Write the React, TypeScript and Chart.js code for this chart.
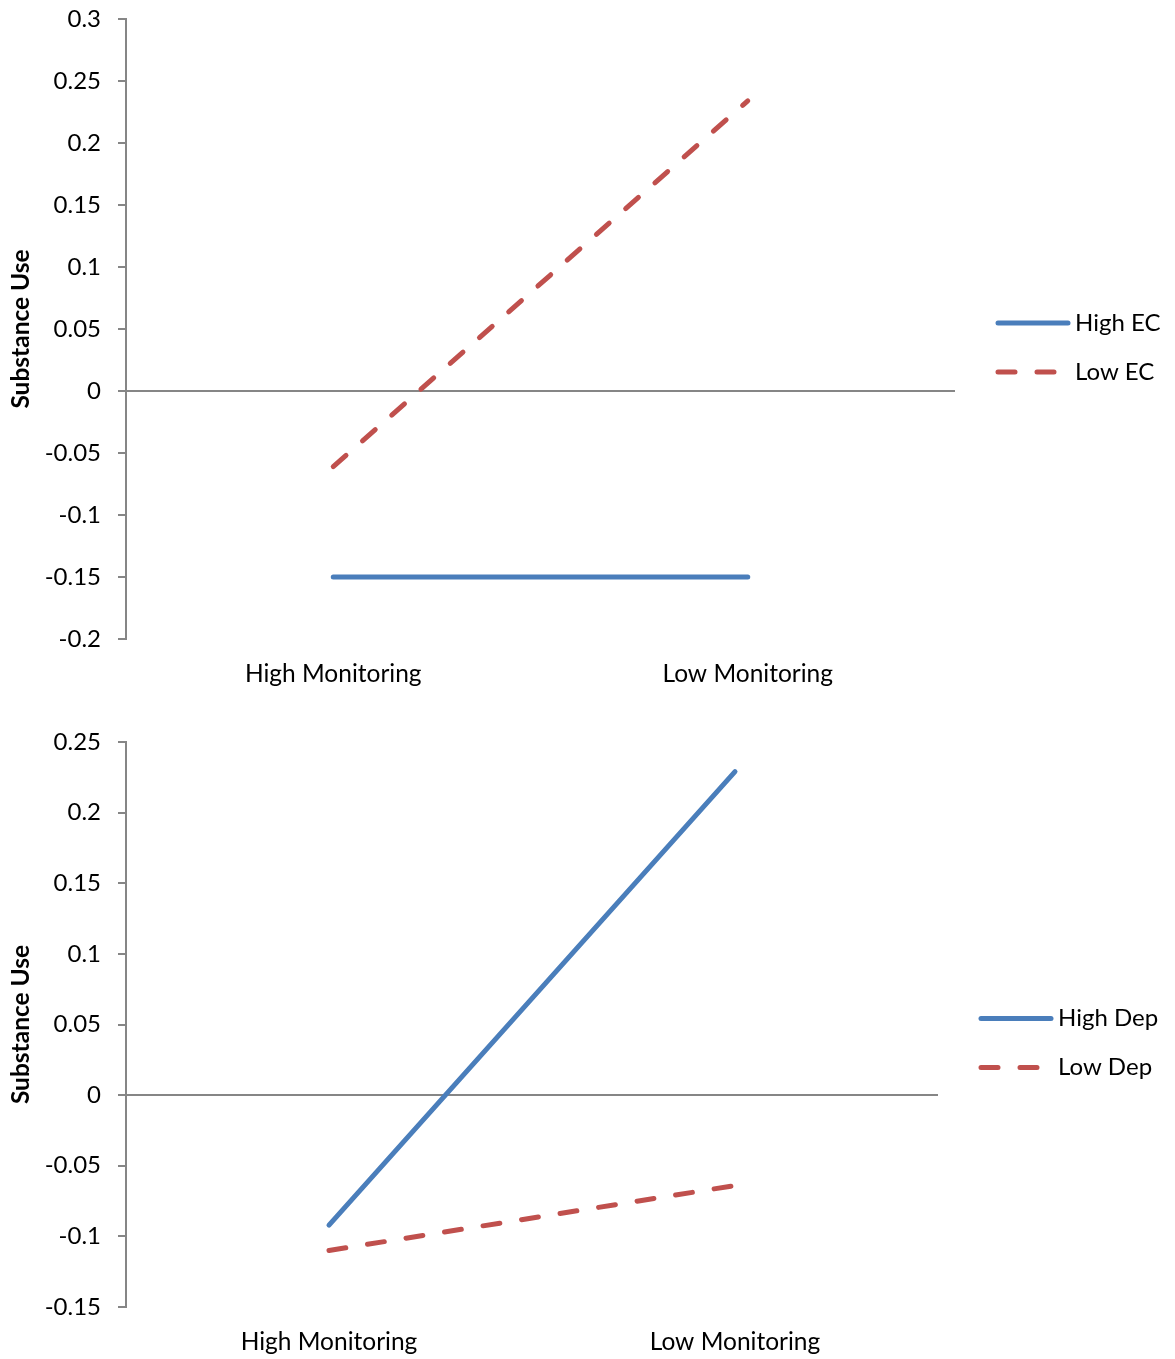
import React, { useEffect, useRef } from "react";
import { Chart, registerables } from "chart.js";

Chart.register(...registerables);

const categories = ["High Monitoring", "Low Monitoring"];

const topSeriesNames = ["High EC", "Low EC"];
const highEC = [-0.15, -0.15];
const lowEC = [-0.061, 0.234];
const topMin = -0.2;
const topMax = 0.3;

const bottomSeriesNames = ["High Dep", "Low Dep"];
const highDep = [-0.092, 0.229];
const lowDep = [-0.11, -0.064];
const bottomMin = -0.15;
const bottomMax = 0.25;

const tickStep = 0.05;
const yTitle = "Substance Use";

const FONT = "Lato, 'Open Sans', sans-serif";
const BLUE = "#4A7EBB";
const RED = "#C0504D";
const GRAY = "#868686";
const DASH = [17, 22];

const legendPlugin = {
  id: "sideLegend",
  afterDraw(chart: any) {
    const { ctx, chartArea } = chart;
    const cy = (chartArea.top + chartArea.bottom) / 2;
    const x0 = chartArea.right + 43;
    chart.data.datasets.forEach((ds: any, i: number) => {
      const y = cy - 6 + i * 49;
      ctx.save();
      ctx.strokeStyle = ds.borderColor;
      ctx.lineWidth = 5;
      ctx.lineCap = "round";
      ctx.setLineDash(ds.borderDash || []);
      ctx.beginPath();
      ctx.moveTo(x0, y);
      ctx.lineTo(x0 + 70, y);
      ctx.stroke();
      ctx.setLineDash([]);
      ctx.fillStyle = "#000";
      ctx.font = `24px ${FONT}`;
      ctx.textBaseline = "middle";
      ctx.textAlign = "left";
      ctx.fillText(ds.label, x0 + 77, y);
      ctx.restore();
    });
  },
};

function makeConfig(
  names: string[],
  a: number[],
  b: number[],
  min: number,
  max: number,
  padTop: number,
  padRight: number,
  xHeight: number
): any {
  return {
    type: "line",
    data: {
      labels: categories,
      datasets: [
        {
          label: names[0],
          data: a,
          borderColor: BLUE,
          backgroundColor: BLUE,
          borderWidth: 5,
          borderCapStyle: "round",
          pointRadius: 0,
          tension: 0,
        },
        {
          label: names[1],
          data: b,
          borderColor: RED,
          backgroundColor: RED,
          borderWidth: 5,
          borderDash: DASH,
          borderCapStyle: "round",
          pointRadius: 0,
          tension: 0,
        },
      ],
    },
    options: {
      responsive: false,
      animation: false,
      devicePixelRatio: 1,
      layout: { padding: { top: padTop, right: padRight, left: 0, bottom: 0 } },
      plugins: { legend: { display: false }, tooltip: { enabled: false } },
      scales: {
        x: {
          type: "category",
          offset: true,
          grid: { display: false, drawTicks: false },
          border: { display: false },
          ticks: {
            color: "#000",
            font: { family: FONT, size: 24.5 },
            padding: 20,
            maxRotation: 0,
          },
          afterFit(scale: any) {
            scale.height = xHeight;
            scale.paddingLeft = 0;
            scale.paddingRight = 0;
          },
        },
        y: {
          min,
          max,
          grid: {
            color: (c: any) =>
              c.tick && Math.abs(c.tick.value) < 1e-9 ? GRAY : "rgba(0,0,0,0)",
            lineWidth: 2,
            tickColor: GRAY,
            tickLength: 8,
            drawTicks: true,
          },
          border: { display: true, color: GRAY, width: 2 },
          ticks: {
            stepSize: tickStep,
            color: "#000",
            font: { family: FONT, size: 24 },
            padding: 17,
            callback: (v: any) => String(Number(Number(v).toFixed(2))),
          },
          title: {
            display: true,
            text: yTitle,
            color: "#000",
            font: { family: FONT, size: 24.5, weight: "bold" },
            padding: { top: 6, bottom: 0 },
          },
          afterFit(scale: any) {
            scale.width = 126;
            scale.paddingTop = 0;
            scale.paddingBottom = 0;
          },
        },
      },
    },
    plugins: [legendPlugin],
  };
}

function ChartBox(props: { top: number; height: number; config: any }) {
  const ref = useRef<HTMLCanvasElement | null>(null);
  useEffect(() => {
    if (!ref.current) return;
    const chart = new Chart(ref.current, props.config);
    return () => chart.destroy();
  }, []);
  return (
    <div style={{ position: "absolute", left: 0, top: props.top, width: 1175, height: props.height }}>
      <canvas ref={ref} width={1175} height={props.height} style={{ display: "block" }} />
    </div>
  );
}

export default function App() {
  const topCfg = makeConfig(topSeriesNames, highEC, lowEC, topMin, topMax, 19, 220, 61);
  const botCfg = makeConfig(bottomSeriesNames, highDep, lowDep, bottomMin, bottomMax, 42, 237, 52);
  return (
    <div style={{ position: "absolute", left: 0, top: 0, width: 1175, height: 1359, background: "#fff" }}>
      <ChartBox top={0} height={700} config={topCfg} />
      <ChartBox top={700} height={659} config={botCfg} />
    </div>
  );
}
